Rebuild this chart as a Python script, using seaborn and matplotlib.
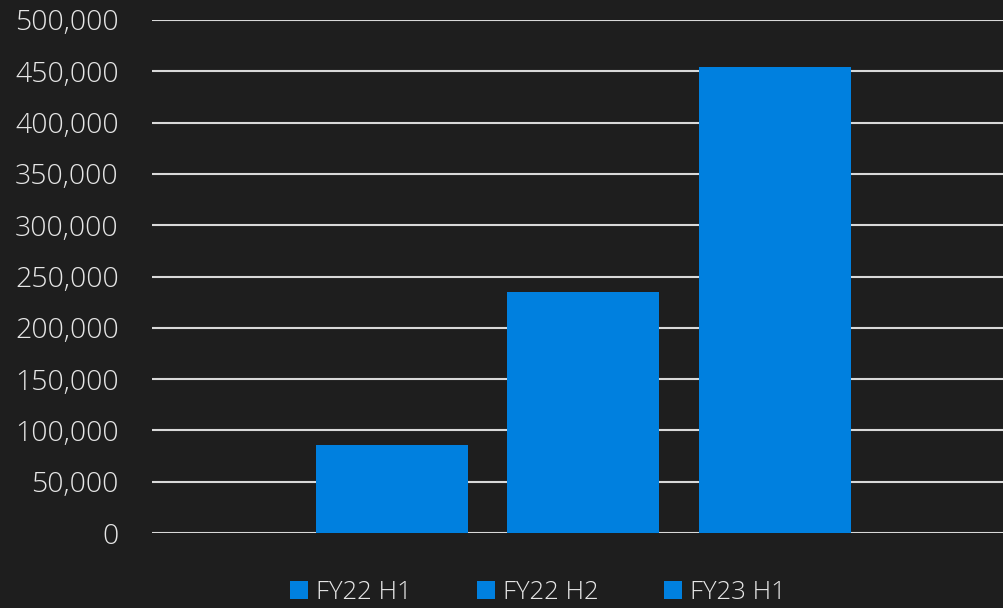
import pandas as pd
import matplotlib.pyplot as plt
import matplotlib.ticker as mticker
from matplotlib.patches import Patch
import seaborn as sns

# Chart values.
periods = ['FY22 H1', 'FY22 H2', 'FY23 H1']
values = [86000, 235000, 454000]
y_ticks = list(range(0, 500001, 50000))

bg = '#1e1e1e'
bar_color = '#0080df'
grid_color = '#d9d9d9'
text_color = '#e6e6e6'

df = pd.DataFrame({'period': periods, 'value': values})

sns.set_style('dark')
plt.rcParams['font.family'] = ['Open Sans', 'DejaVu Sans']
plt.rcParams['font.weight'] = 'light'

fig = plt.figure(figsize=(10.04, 6.08), dpi=100, facecolor=bg)
ax = fig.add_axes([152 / 1004, 1 - 533 / 608, 1 - 152 / 1004, 513 / 608])
ax.set_facecolor(bg)

sns.barplot(data=df, x='period', y='value', hue='period',
            palette=[bar_color] * 3, width=0.794, saturation=1,
            linewidth=0, edgecolor='none',
            legend=False, ax=ax, zorder=3)

ax.set_xlim(-1.253, 3.196)
ax.set_ylim(0, 500000)
ax.set_yticks(y_ticks)
ax.yaxis.set_major_formatter(mticker.FuncFormatter(lambda v, p: f'{int(v):,}'))
ax.yaxis.grid(True, color=grid_color, linewidth=1.5, zorder=0)
ax.xaxis.grid(False)
ax.set_xticks([])
ax.set_xlabel('')
ax.set_ylabel('')
ax.tick_params(axis='y', length=0, pad=24, labelsize=20.5, labelcolor=text_color)
for s in ax.spines.values():
    s.set_visible(False)
for lbl in ax.get_yticklabels():
    lbl.set_fontweight('light')

handles = [Patch(facecolor=bar_color, edgecolor='none', label=p) for p in periods]
leg = fig.legend(handles=handles, loc='lower center', ncol=3, frameon=False,
                 bbox_to_anchor=(0.536, -0.033), fontsize=18.5, handlelength=0.7,
                 handleheight=0.7, handletextpad=0.3, columnspacing=2.55,
                 labelcolor=text_color)
for t in leg.get_texts():
    t.set_fontweight('light')

fig.savefig('out.png', dpi=100, facecolor=bg)
